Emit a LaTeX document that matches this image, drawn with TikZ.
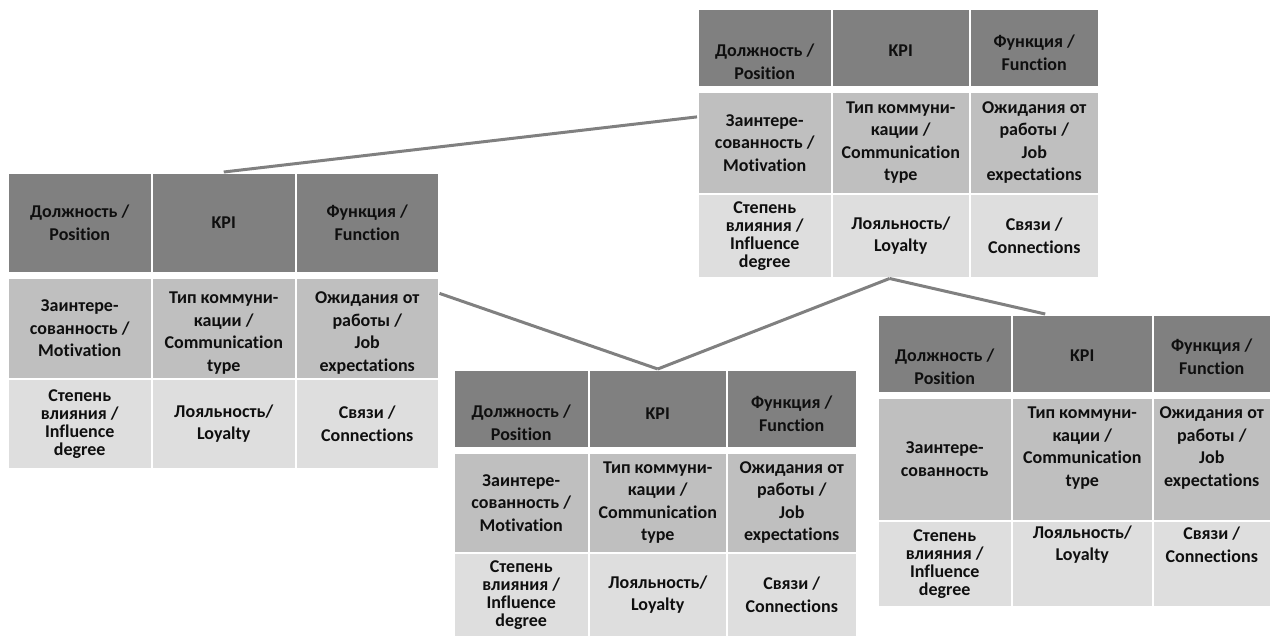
\documentclass[tikz,border=0pt]{standalone}
\usepackage{fontspec}
\setmainfont{Carlito}[Ligatures=NoCommon]
\usetikzlibrary{calc}

\definecolor{hdrgray}{RGB}{128,128,128}
\definecolor{midgray}{RGB}{191,191,191}
\definecolor{lowgray}{RGB}{222,222,222}
\definecolor{linkgray}{RGB}{128,128,128}
\definecolor{txtgray}{RGB}{15,15,15}

\tikzset{
  cellbox/.style={draw=white, line width=1.5pt, anchor=north west, inner sep=0pt},
  hdr/.style={cellbox, fill=hdrgray},
  mid/.style={cellbox, fill=midgray},
  low/.style={cellbox, fill=lowgray},
  kpitext/.style={font=\bfseries\fontsize{18}{22.5}\selectfont, align=center, text=txtgray, inner sep=0pt},
  link/.style={draw=linkgray, line width=3pt}
}

% [text shift]{name}{style}{x1}{y1}{x2}{y2}{text}
\newcommand{\kpicell}[8][0]{%
  \node[#3, minimum width={#6-#4}, minimum height={#7-#5},
        label={[kpitext, yshift=#1]center:{#8}}] (#2) at (#4,#5) {};
}
% the tight four-line cell of the last row
\newcommand{\infl}{Степень\\[-4.5pt]влияния /\\[-4.5pt]Influence\\[-4.5pt]degree}

\begin{document}
\begin{tikzpicture}[x=1pt, y=-1pt]
  \useasboundingbox (0,0) rectangle (1272,637);

  % top table
  \kpicell[-14]{t1-11}{hdr}{697}{8}{831}{86}{Должность /\\Position}
  \kpicell[-3]{t1-12}{hdr}{831}{8}{969}{86}{KPI}
  \kpicell[-5]{t1-13}{hdr}{969}{8}{1098}{86}{Функция /\\Function}
  \kpicell{t1-21}{mid}{697}{91}{831}{193}{Заинтере-\\сованность /\\Motivation}
  \kpicell{t1-22}{mid}{831}{91}{969}{193}{Тип коммуни-\\кации /\\Communication\\type}
  \kpicell{t1-23}{mid}{969}{91}{1098}{193}{Ожидания от\\работы /\\Job\\expectations}
  \kpicell{t1-31}{low}{697}{193}{831}{277}{\infl}
  \kpicell{t1-32}{low}{831}{193}{969}{277}{Лояльность/\\Loyalty}
  \kpicell{t1-33}{low}{969}{193}{1098}{277}{Связи /\\Connections}

  % left table
  \kpicell{t2-11}{hdr}{7}{172}{151}{272}{Должность /\\Position}
  \kpicell{t2-12}{hdr}{151}{172}{295}{272}{KPI}
  \kpicell{t2-13}{hdr}{295}{172}{438}{272}{Функция /\\Function}
  \kpicell{t2-21}{mid}{7}{277}{151}{378}{Заинтере-\\сованность /\\Motivation}
  \kpicell[-5]{t2-22}{mid}{151}{277}{295}{378}{Тип коммуни-\\кации /\\Communication\\type}
  \kpicell[-5]{t2-23}{mid}{295}{277}{438}{378}{Ожидания от\\работы /\\Job\\expectations}
  \kpicell{t2-31}{low}{7}{378}{151}{468}{\infl}
  \kpicell{t2-32}{low}{151}{378}{295}{468}{Лояльность/\\Loyalty}
  \kpicell{t2-33}{low}{295}{378}{438}{468}{Связи /\\Connections}

  % bottom table
  \kpicell[-14]{t3-11}{hdr}{453}{369}{588}{447}{Должность /\\Position}
  \kpicell[-5]{t3-12}{hdr}{588}{369}{726}{447}{KPI}
  \kpicell[-5]{t3-13}{hdr}{726}{369}{856}{447}{Функция /\\Function}
  \kpicell{t3-21}{mid}{453}{452}{588}{552}{Заинтере-\\сованность /\\Motivation}
  \kpicell{t3-22}{mid}{588}{452}{726}{552}{Тип коммуни-\\кации /\\Communication\\type}
  \kpicell{t3-23}{mid}{726}{452}{856}{552}{Ожидания от\\работы /\\Job\\expectations}
  \kpicell{t3-31}{low}{453}{552}{588}{636}{\infl}
  \kpicell{t3-32}{low}{588}{552}{726}{636}{Лояльность/\\Loyalty}
  \kpicell{t3-33}{low}{726}{552}{856}{636}{Связи /\\Connections}

  % right table
  \kpicell[-13]{t4-11}{hdr}{877}{314}{1011}{392}{Должность /\\Position}
  \kpicell[-2]{t4-12}{hdr}{1011}{314}{1152}{392}{KPI}
  \kpicell[-3]{t4-13}{hdr}{1152}{314}{1270}{392}{Функция /\\Function}
  \kpicell{t4-21}{mid}{877}{397}{1011}{520}{Заинтере-\\сованность}
  \kpicell[11]{t4-22}{mid}{1011}{397}{1152}{520}{Тип коммуни-\\кации /\\Communication\\type}
  \kpicell[11]{t4-23}{mid}{1152}{397}{1270}{520}{Ожидания от\\работы /\\Job\\expectations}
  \kpicell{t4-31}{low}{877}{520}{1011}{606}{\infl}
  \kpicell[19]{t4-32}{low}{1011}{520}{1152}{606}{Лояльность/\\Loyalty}
  \kpicell[19]{t4-33}{low}{1152}{520}{1270}{606}{Связи /\\Connections}

  % links between tables
  \coordinate (hub) at ($(t1-32.south west)!0.42!(t1-32.south east)$);
  \draw[link] ($(t1-21.north west)!0.25!(t1-21.south west)$) -- (t2-12.north);
  \draw[link] ($(t2-23.north east)!0.16!(t2-23.south east)$) -- (t3-12.north);
  \draw[link] (hub) -- (t3-12.north);
  \draw[link] (hub) -- ($(t4-12.north west)!0.24!(t4-12.north east)$);
\end{tikzpicture}
\end{document}
